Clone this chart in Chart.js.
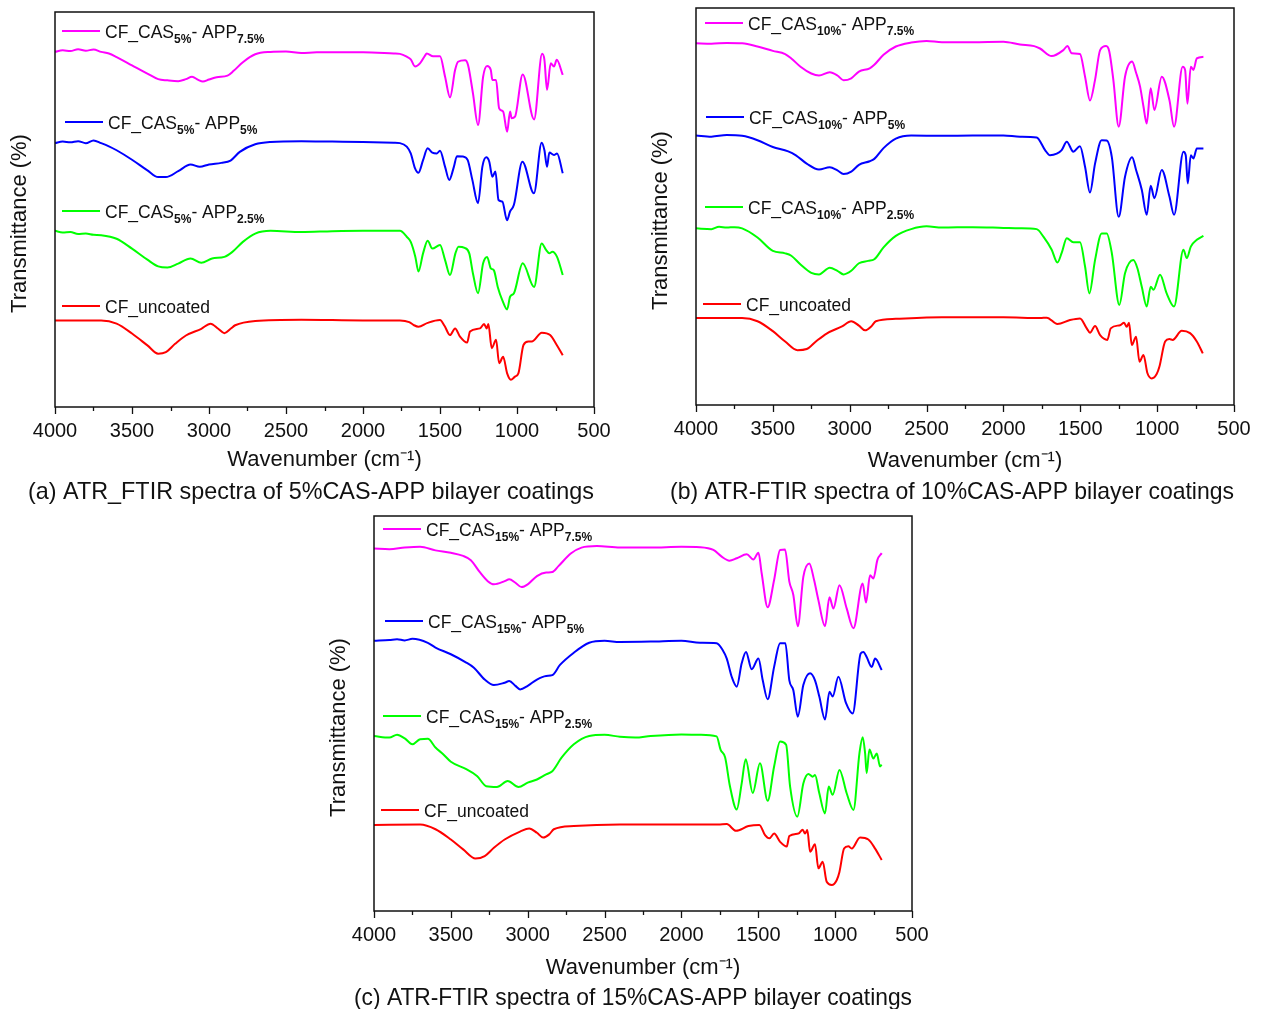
<!DOCTYPE html>
<html><head><meta charset="utf-8">
<script src="https://cdn.jsdelivr.net/npm/chart.js@4.4.0/dist/chart.umd.min.js"></script>
<style>
body{margin:0;background:#fff;width:1263px;height:1009px;position:relative;overflow:hidden;font-family:"Liberation Sans",Arial,sans-serif}
.w{position:absolute}
</style></head><body>
<div class="w" style="left:0;top:0;width:625px;height:510px"><canvas id="ca"></canvas></div>
<div class="w" style="left:640px;top:0;width:623px;height:510px"><canvas id="cb"></canvas></div>
<div class="w" style="left:320px;top:506px;width:620px;height:507px"><canvas id="cc"></canvas></div>
<script>
// ---- labels ----
const casLevels = ['5%', '10%', '15%'];
const appLevels = ['7.5%', '5%', '2.5%'];
const seriesColors = ['#FF00FF', '#0000FF', '#00FF00', '#FF0000'];
const captions = [
  '(a) ATR_FTIR spectra of 5%CAS-APP bilayer coatings',
  '(b) ATR-FTIR spectra of 10%CAS-APP bilayer coatings',
  '(c) ATR-FTIR spectra of 15%CAS-APP bilayer coatings'
];
const xTitle = 'Wavenumber (cm\u207B\u00B9)';
const yTitle = 'Transmittance (%)';
const xTickValues = [4000, 3500, 3000, 2500, 2000, 1500, 1000, 500];

// ---- spectra: [wavenumber, transmittance (a.u., offset-stacked)] ----
const a_m = [[4000,89.9],[3950,90.3],[3900,90.1],[3850,90.6],[3800,90.2],[3750,90.5],[3700,89.9],[3650,89.5],[3600,88.6],[3500,86.5],[3400,84.4],[3330,83.0],[3270,82.7],[3200,82.5],[3150,83.0],[3110,83.6],[3070,82.8],[3040,82.4],[3000,82.9],[2950,83.5],[2880,83.9],[2840,85.1],[2780,87.3],[2700,89.3],[2600,89.9],[2500,90.0],[2400,89.6],[2300,89.8],[2150,89.8],[2000,89.8],[1800,89.5],[1760,89.4],[1716,88.7],[1690,88.0],[1662,86.2],[1630,87.0],[1600,88.8],[1586,89.5],[1545,88.8],[1500,88.8],[1467,83.6],[1435,78.4],[1402,85.3],[1383,87.4],[1337,87.8],[1318,86.6],[1286,79.4],[1253,71.4],[1220,83.6],[1194,86.3],[1170,85.3],[1160,82.8],[1136,82.8],[1116,75.6],[1090,74.8],[1064,69.7],[1045,74.8],[1035,73.1],[1013,73.5],[963,84.2],[889,72.8],[837,89.4],[822,87.9],[805,80.3],[781,87.0],[760,86.2],[742,87.9],[703,84.1]];
const a_b = [[4000,66.8],[3950,67.2],[3900,67.0],[3850,67.3],[3800,66.8],[3750,67.5],[3700,66.8],[3650,66.0],[3600,65.0],[3500,62.6],[3400,59.9],[3330,58.2],[3280,58.2],[3200,59.7],[3120,61.4],[3060,60.8],[3000,61.4],[2920,61.8],[2860,62.4],[2800,64.6],[2700,66.5],[2600,67.1],[2400,67.3],[2200,67.2],[2000,67.1],[1800,66.9],[1760,66.8],[1716,65.9],[1690,64.2],[1662,60.4],[1640,59.3],[1610,62.5],[1580,65.5],[1550,64.4],[1520,64.2],[1500,64.9],[1467,60.8],[1440,57.5],[1410,60.8],[1390,63.5],[1350,63.4],[1320,62.5],[1290,57.5],[1253,51.6],[1225,60.8],[1200,63.2],[1180,62.1],[1160,58.3],[1140,59.6],[1120,52.4],[1095,52.0],[1065,47.3],[1045,49.5],[1020,51.2],[965,62.1],[890,54.1],[840,66.9],[822,65.0],[805,60.8],[790,64.4],[760,63.8],[740,64.2],[703,59.2]];
const a_g = [[4000,44.6],[3950,44.2],[3900,44.3],[3850,43.8],[3800,43.9],[3750,43.6],[3700,43.5],[3600,42.6],[3500,40.1],[3400,37.3],[3330,35.6],[3270,35.3],[3200,36.3],[3120,37.6],[3050,36.5],[2980,37.6],[2900,38.0],[2850,39.2],[2780,41.8],[2700,43.9],[2600,44.6],[2400,44.3],[2200,44.5],[2000,44.6],[1800,44.6],[1760,44.6],[1716,43.1],[1690,41.8],[1660,38.0],[1640,34.3],[1610,38.9],[1580,42.1],[1550,40.1],[1500,41.0],[1467,37.2],[1435,33.4],[1400,38.9],[1380,40.6],[1340,40.3],[1310,38.9],[1286,33.8],[1253,28.8],[1220,36.4],[1194,38.0],[1170,35.1],[1150,34.6],[1125,30.4],[1095,27.0],[1064,24.7],[1045,27.9],[1020,28.8],[963,36.4],[889,30.4],[840,41.4],[810,39.7],[790,38.9],[770,39.3],[740,38.0],[703,33.4]];
const a_r = [[4000,21.9],[3700,21.9],[3600,21.1],[3500,18.6],[3400,15.6],[3330,13.5],[3280,13.9],[3220,16.0],[3150,18.1],[3050,19.8],[2990,21.1],[2940,19.8],[2900,18.7],[2860,19.8],[2830,20.7],[2700,21.8],[2400,22.1],[2000,21.9],[1760,21.9],[1700,21.5],[1673,20.8],[1640,20.3],[1580,21.3],[1500,22.0],[1470,20.5],[1435,18.2],[1402,19.9],[1370,17.8],[1324,16.3],[1305,19.1],[1240,19.9],[1214,21.0],[1197,19.9],[1186,21.0],[1164,14.9],[1136,17.0],[1116,11.1],[1090,12.7],[1064,8.5],[1040,6.9],[1013,7.7],[991,8.5],[958,15.7],[926,16.6],[904,16.6],[839,18.8],[785,18.2],[742,15.7],[703,13.1]];

const b_m = [[4000,91.1],[3900,91.0],[3800,91.2],[3700,91.1],[3600,90.3],[3500,89.2],[3420,88.4],[3380,87.3],[3320,85.2],[3250,83.5],[3200,83.0],[3130,83.8],[3080,83.0],[3040,81.8],[2990,82.3],[2940,84.0],[2870,84.8],[2840,85.7],[2780,88.2],[2700,90.3],[2600,91.3],[2500,91.7],[2400,91.4],[2200,91.4],[2000,91.5],[1892,90.8],[1800,90.4],[1762,89.8],[1686,87.9],[1610,89.4],[1584,90.4],[1556,88.6],[1502,88.4],[1469,82.7],[1437,76.7],[1404,81.9],[1371,89.4],[1332,90.4],[1311,89.0],[1285,81.9],[1250,70.1],[1209,82.7],[1163,86.5],[1137,83.7],[1111,80.2],[1089,75.2],[1068,70.9],[1042,79.8],[1018,74.3],[970,82.7],[920,76.8],[890,70.1],[834,85.2],[818,84.4],[803,75.9],[781,85.2],[764,84.4],[742,87.3],[699,87.7]];
const b_b = [[4000,67.9],[3900,67.6],[3800,68.0],[3700,67.8],[3600,66.7],[3500,65.0],[3400,63.9],[3350,62.9],[3280,60.8],[3200,59.3],[3130,59.9],[3080,59.1],[3040,58.2],[2990,58.8],[2940,60.5],[2870,61.4],[2840,62.0],[2780,64.7],[2700,67.1],[2600,67.9],[2400,67.8],[2200,67.9],[2000,67.9],[1892,67.6],[1784,67.4],[1729,64.2],[1697,62.9],[1653,63.3],[1621,64.2],[1588,66.3],[1545,63.8],[1502,65.2],[1469,60.0],[1437,53.5],[1404,60.8],[1361,66.7],[1328,66.6],[1295,62.5],[1250,47.4],[1209,57.5],[1163,62.4],[1137,59.2],[1100,54.2],[1068,47.9],[1042,55.2],[1018,52.1],[970,59.2],[920,52.5],[890,47.9],[829,63.8],[814,62.9],[801,55.8],[781,62.9],[764,62.1],[742,64.6],[699,64.6]];
const b_g = [[4000,44.5],[3900,44.3],[3850,44.9],[3800,44.7],[3750,44.8],[3700,44.5],[3600,42.2],[3500,38.8],[3420,38.2],[3380,37.6],[3320,35.4],[3250,33.3],[3200,32.9],[3130,34.6],[3080,33.8],[3040,32.9],[2990,33.8],[2940,35.7],[2880,36.3],[2840,36.7],[2780,39.7],[2700,42.6],[2600,44.3],[2500,45.0],[2400,44.7],[2200,44.8],[2000,44.6],[1892,44.5],[1784,44.3],[1740,42.4],[1686,39.1],[1649,35.9],[1621,38.3],[1588,42.0],[1545,41.0],[1502,41.0],[1469,34.9],[1441,28.1],[1404,36.5],[1361,43.2],[1328,43.2],[1295,38.3],[1246,25.2],[1209,33.2],[1155,36.5],[1129,34.5],[1100,29.8],[1068,24.8],[1042,29.8],[1024,29.0],[981,32.8],[938,28.1],[890,24.8],[829,39.1],[807,37.0],[781,39.9],[742,41.6],[699,42.6]];
const b_r = [[4000,21.9],[3700,21.9],[3600,21.1],[3500,18.6],[3420,16.0],[3340,13.8],[3280,14.1],[3220,16.0],[3150,18.0],[3050,19.8],[2990,21.1],[2940,20.0],[2900,18.8],[2860,19.8],[2830,21.1],[2700,21.7],[2400,22.1],[2000,22.1],[1760,21.9],[1718,22.0],[1649,20.4],[1567,21.4],[1502,21.8],[1458,19.3],[1437,18.2],[1404,19.9],[1371,17.6],[1324,16.4],[1302,19.3],[1241,20.1],[1215,20.7],[1198,19.7],[1183,20.7],[1165,15.1],[1137,17.2],[1115,10.9],[1089,12.6],[1063,8.0],[1035,6.7],[1003,7.8],[985,9.7],[948,16.0],[920,16.6],[899,16.4],[840,18.7],[786,18.1],[742,16.0],[703,13.0]];

const c_m = [[4000,91.8],[3900,91.6],[3800,92.0],[3700,92.2],[3600,91.3],[3500,90.7],[3420,89.9],[3370,88.8],[3310,85.7],[3260,83.5],[3220,82.7],[3150,83.5],[3120,84.0],[3080,83.1],[3040,82.0],[3000,82.7],[2940,84.8],[2880,85.7],[2840,85.8],[2800,87.3],[2720,90.5],[2650,92.0],[2550,92.4],[2400,92.0],[2200,92.0],[2000,92.2],[1879,92.1],[1792,91.4],[1738,89.7],[1688,88.7],[1640,89.3],[1575,90.3],[1532,89.0],[1499,90.7],[1478,85.5],[1439,76.9],[1397,83.8],[1358,91.4],[1326,91.5],[1298,83.4],[1272,80.0],[1243,72.1],[1207,84.6],[1168,88.0],[1137,83.8],[1109,78.7],[1066,72.1],[1037,79.4],[1011,76.6],[972,82.5],[925,76.6],[881,71.6],[821,82.9],[799,78.1],[773,85.0],[751,84.2],[725,88.9],[697,90.6]];
const c_b = [[4000,68.4],[3900,68.6],[3850,68.8],[3800,68.5],[3750,68.9],[3650,67.9],[3600,66.7],[3500,65.0],[3400,62.9],[3350,61.6],[3280,58.6],[3220,57.2],[3150,57.8],[3120,58.2],[3080,57.0],[3050,56.1],[3000,57.0],[2940,58.6],[2880,59.5],[2840,59.7],[2790,62.3],[2700,65.4],[2600,67.9],[2500,68.4],[2400,68.1],[2200,68.2],[2000,68.4],[1879,67.9],[1771,67.8],[1732,66.1],[1705,63.9],[1673,59.3],[1640,56.8],[1608,62.7],[1580,65.6],[1543,61.2],[1499,63.9],[1471,58.4],[1439,53.6],[1397,61.8],[1358,67.8],[1324,67.8],[1298,58.4],[1272,55.9],[1243,49.2],[1207,57.2],[1163,60.2],[1131,58.4],[1103,54.3],[1066,48.5],[1037,55.5],[1016,54.3],[979,59.3],[929,52.6],[886,50.0],[834,65.2],[816,65.6],[795,64.3],[762,61.8],[740,63.9],[697,61.0]];
const c_g = [[4000,44.3],[3900,43.9],[3850,44.6],[3800,43.7],[3750,42.2],[3700,43.5],[3650,43.6],[3600,41.4],[3550,39.7],[3500,37.8],[3400,35.9],[3330,34.2],[3270,31.6],[3200,31.4],[3130,32.9],[3060,31.4],[3000,32.5],[2940,33.3],[2880,34.6],[2840,35.4],[2780,38.8],[2700,42.2],[2600,44.3],[2500,44.6],[2400,44.1],[2300,43.9],[2200,44.3],[2000,44.7],[1879,44.6],[1771,44.2],[1745,40.8],[1716,38.9],[1684,31.5],[1640,25.7],[1608,32.3],[1582,38.4],[1536,29.9],[1489,37.4],[1439,27.9],[1397,36.6],[1358,42.9],[1319,42.1],[1293,31.5],[1246,23.9],[1207,32.3],[1174,34.7],[1146,34.0],[1131,34.4],[1103,29.8],[1066,24.7],[1042,31.5],[1016,29.4],[972,35.7],[925,29.8],[881,25.6],[842,39.9],[821,44.0],[805,39.9],[795,34.9],[777,40.9],[751,38.6],[729,39.9],[708,36.6],[697,37.0]];
const c_r = [[4000,21.8],[3700,21.9],[3600,20.7],[3500,18.1],[3420,15.6],[3340,13.3],[3280,13.9],[3220,16.0],[3150,18.1],[3050,20.1],[2990,20.9],[2940,19.8],[2900,18.6],[2860,19.4],[2830,20.7],[2700,21.5],[2400,21.9],[2000,21.9],[1760,21.9],[1705,22.0],[1645,20.3],[1564,21.5],[1493,21.8],[1456,19.2],[1428,18.4],[1397,19.6],[1358,17.5],[1315,16.3],[1298,19.0],[1239,19.6],[1211,20.6],[1196,19.6],[1181,20.5],[1163,15.0],[1131,16.9],[1109,10.8],[1081,12.5],[1055,7.4],[1022,6.6],[990,7.8],[972,9.9],[942,15.8],[914,16.4],[892,15.8],[838,18.6],[784,18.1],[740,15.8],[697,12.9]];

const panelSeries = [[a_m, a_b, a_g, a_r], [b_m, b_b, b_g, b_r], [c_m, c_b, c_g, c_r]];

// ---- layout (pixels) ----
const FONT = '"Liberation Sans", Arial, Helvetica, sans-serif';
const panelLayout = [
  {id:'ca', pad:{left:28,right:31,top:12,bottom:3.6}, yw:27, xh:70.6, xtp:4.4, leg:[[7,19],[10,110],[7,199],[7,294]]},
  {id:'cb', pad:{left:30,right:29,top:8,bottom:3.6}, yw:26, xh:72.6, xtp:3.4, leg:[[9,15],[10,109],[9,199],[7,296]]},
  {id:'cc', pad:{left:34,right:28,top:10,bottom:0.6}, yw:20, xh:72.6, xtp:2.4, leg:[[9,13],[11,105],[9,200],[7,294]]}
];

const framePlugin = {
  id: 'frame',
  afterDraw(chart) {
    const {ctx, chartArea: a} = chart;
    const xs = chart.scales.x;
    ctx.save();
    ctx.strokeStyle = '#111';
    ctx.lineWidth = 1.5;
    ctx.strokeRect(a.left, a.top, a.right - a.left, a.bottom - a.top);
    ctx.lineWidth = 1.3;
    for (let v = xs.min; v <= xs.max; v += 250) {
      const px = Math.round(xs.getPixelForValue(v)) + 0.5;
      const len = (v % 500 === 0) ? 7 : 4;
      ctx.beginPath(); ctx.moveTo(px, a.bottom); ctx.lineTo(px, a.bottom + len); ctx.stroke();
    }
    // y axis title
    ctx.translate(a.left - 35, (a.top + a.bottom) / 2 + 14);
    ctx.rotate(-Math.PI / 2);
    ctx.fillStyle = '#111';
    ctx.font = '22px ' + FONT;
    ctx.textAlign = 'center';
    ctx.textBaseline = 'middle';
    ctx.fillText(yTitle, 0, 0);
    ctx.restore();
  }
};

const legendPlugin = {
  id: 'subLegend',
  afterDraw(chart, args, opts) {
    const {ctx, chartArea: a} = chart;
    ctx.save();
    opts.items.forEach((it, i) => {
      const ds = chart.data.datasets[i];
      const x0 = a.left + it.pos[0];
      const y = a.top + it.pos[1];
      ctx.strokeStyle = ds.borderColor;
      ctx.lineWidth = 2;
      ctx.beginPath(); ctx.moveTo(x0, y); ctx.lineTo(x0 + 38, y); ctx.stroke();
      let x = x0 + 43;
      ctx.fillStyle = '#111';
      ctx.textBaseline = 'alphabetic';
      ctx.textAlign = 'left';
      it.parts.forEach(([t, sub]) => {
        ctx.font = sub ? 'bold 12px ' + FONT : '17.5px ' + FONT;
        ctx.fillText(t, x, y + (sub ? 12 : 6.5));
        x += ctx.measureText(t).width;
      });
    });
    ctx.restore();
  }
};

function legendParts(p, s) {
  if (s === 3) return [['CF_uncoated', 0]];
  return [['CF_CAS', 0], [casLevels[p], 1], ['- APP', 0], [appLevels[s], 1]];
}
function plainLabel(p, s) {
  return legendParts(p, s).map(q => q[0]).join('');
}

panelLayout.forEach((L, p) => {
  const datasets = panelSeries[p].map((arr, s) => ({
    label: plainLabel(p, s),
    data: arr.map(([x, y]) => ({x, y})),
    borderColor: seriesColors[s],
    backgroundColor: seriesColors[s],
    borderWidth: 2,
    pointRadius: 0,
    fill: false,
    cubicInterpolationMode: 'monotone'
  }));
  new Chart(document.getElementById(L.id), {
    type: 'line',
    data: {datasets},
    options: {
      responsive: true,
      maintainAspectRatio: false,
      animation: false,
      devicePixelRatio: 1,
      layout: {padding: L.pad},
      scales: {
        x: {
          type: 'linear', min: 500, max: 4000, reverse: true,
          afterFit(s) { s.height = L.xh; s.paddingLeft = 0; s.paddingRight = 0; },
          afterBuildTicks(s) { s.ticks = xTickValues.map(v => ({value: v})); },
          ticks: {font: {family: FONT, size: 20, lineHeight: 1.2}, color: '#111', padding: 12, maxRotation: 0, autoSkip: false,
                  callback: v => String(v)},
          grid: {display: false, drawTicks: false},
          border: {display: false},
          title: {display: true, text: xTitle, font: {family: FONT, size: 22, lineHeight: 1.2}, color: '#111',
                  padding: {top: 0, bottom: L.xtp}}
        },
        y: {
          min: 0, max: 100,
          afterFit(s) { s.width = L.yw; s.paddingTop = 0; s.paddingBottom = 0; },
          ticks: {display: false},
          grid: {display: false, drawTicks: false},
          border: {display: false}
        }
      },
      plugins: {
        legend: {display: false},
        tooltip: {enabled: false},
        title: {display: true, position: 'bottom', text: captions[p],
                font: {family: FONT, size: 24, weight: 'normal', lineHeight: 1.2}, color: '#111', padding: 0},
        subLegend: {items: L.leg.map((pos, s) => ({pos, parts: legendParts(p, s)}))}
      }
    },
    plugins: [framePlugin, legendPlugin]
  });
});
</script>
</body></html>
